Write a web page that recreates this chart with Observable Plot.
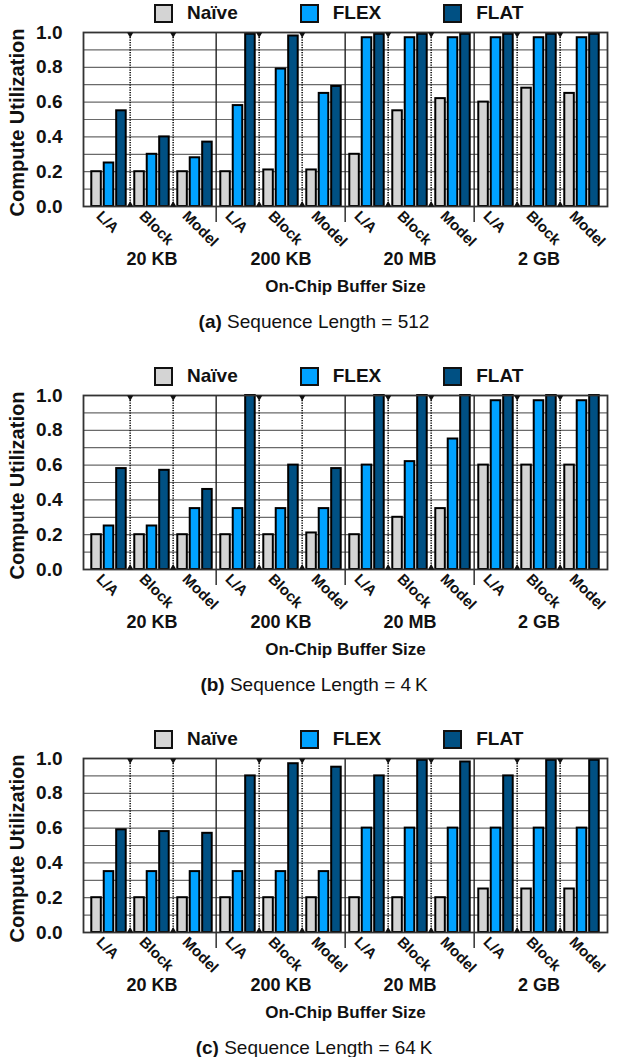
<!DOCTYPE html>
<html>
<head>
<meta charset="utf-8">
<script src="https://cdn.jsdelivr.net/npm/d3@7"></script>
<script src="https://cdn.jsdelivr.net/npm/@observablehq/plot@0.6"></script>
<style>
  body { margin: 0; background: #fff; font-family: "Liberation Sans", Arial, sans-serif; }
  .panel { position: relative; width: 628px; height: 363px; }
  .legend { display: flex; align-items: center; height: 26px; padding-left: 154px; gap: 62px; }
  .legend .item { display: flex; align-items: center; font-size: 19px; font-weight: bold; color: #111; }
  .legend .sw { width: 15px; height: 15px; border: 2px solid #111; margin-right: 14px; }
  .caption { position: absolute; left: 0; width: 628px; top: 311px; text-align: center;
             font-size: 19px; line-height: 22px; color: #111; }
  .caption b { font-weight: bold; }
  svg { display: block; }
</style>
</head>
<body>
<div id="chart"></div>
<script>
// Categories and series
const groups = ["20 KB", "200 KB", "20 MB", "2 GB"];
const categories = ["L/A", "Block", "Model"];
const seriesNames = ["Naïve", "FLEX", "FLAT"];
const seriesColors = ["#d4d4d4", "#00a2ff", "#005083"];
const yTicks = [0, 0.2, 0.4, 0.6, 0.8, 1.0];
const gridLevels = [0.1, 0.2, 0.3, 0.4, 0.5, 0.6, 0.7, 0.8, 0.9];

// Compute utilization, ordered group by group: L/A, Block, Model
// (a) Sequence Length = 512
const naive512 = [0.20, 0.20, 0.20, 0.20, 0.21, 0.21, 0.30, 0.55, 0.62, 0.60, 0.68, 0.65];
const flex512  = [0.25, 0.30, 0.28, 0.58, 0.79, 0.65, 0.97, 0.97, 0.97, 0.97, 0.97, 0.97];
const flat512  = [0.55, 0.40, 0.37, 0.99, 0.98, 0.69, 0.99, 0.99, 0.99, 0.99, 0.99, 0.99];
// (b) Sequence Length = 4 K
const naive4K = [0.20, 0.20, 0.20, 0.20, 0.20, 0.21, 0.20, 0.30, 0.35, 0.60, 0.60, 0.60];
const flex4K  = [0.25, 0.25, 0.35, 0.35, 0.35, 0.35, 0.60, 0.62, 0.75, 0.97, 0.97, 0.97];
const flat4K  = [0.58, 0.57, 0.46, 1.00, 0.60, 0.58, 1.00, 1.00, 1.00, 1.00, 1.00, 1.00];
// (c) Sequence Length = 64 K
const naive64K = [0.20, 0.20, 0.20, 0.20, 0.20, 0.20, 0.20, 0.20, 0.20, 0.25, 0.25, 0.25];
const flex64K  = [0.35, 0.35, 0.35, 0.35, 0.35, 0.35, 0.60, 0.60, 0.60, 0.60, 0.60, 0.60];
const flat64K  = [0.59, 0.58, 0.57, 0.90, 0.97, 0.95, 0.90, 0.99, 0.98, 0.90, 0.99, 0.99];

const panels = [
  {tag: "a", text: "Sequence Length = 512", values: [naive512, flex512, flat512]},
  {tag: "b", text: "Sequence Length = 4\u2009K", values: [naive4K, flex4K, flat4K]},
  {tag: "c", text: "Sequence Length = 64\u2009K", values: [naive64K, flex64K, flat64K]}
];

const keys = groups.flatMap(g => categories.map(c => `${g}|${c}`));
const dottedKeys = keys.filter(k => !k.endsWith("|L/A"));
const solidKeys = keys.filter((k, i) => k.endsWith("|L/A") && i > 0);

// Layout
const W = 628, mL = 83, mR = 21, mT = 6, plotH = 174, mB = 91;
const bw = (W - mL - mR) / keys.length;   // width of one category slot
const pitch = 12.45, barW = 12.2, pad = (bw - 2 * pitch - barW) / 2, sw = 2;
const font = "Liberation Sans, Arial, sans-serif";

const root = document.getElementById("chart");

for (const p of panels) {
  const rows = [];
  p.values.forEach((vals, s) => vals.forEach((v, i) => rows.push({
    key: keys[i], series: seriesNames[s], s, value: v
  })));

  const panel = document.createElement("div");
  panel.className = "panel";

  const legend = document.createElement("div");
  legend.className = "legend";
  seriesNames.forEach((name, i) => {
    const item = document.createElement("div");
    item.className = "item";
    item.innerHTML = `<span class="sw" style="background:${seriesColors[i]}"></span>${name}`;
    legend.appendChild(item);
  });
  panel.appendChild(legend);

  const barMarks = seriesNames.map((name, s) => {
    const left = pad + s * pitch;
    return Plot.barY(rows.filter(d => d.s === s), {
      x: "key", y: "value",
      fill: seriesColors[s], stroke: "#000", strokeWidth: sw,
      insetLeft: left + sw / 2,
      insetRight: bw - left - barW + sw / 2
    });
  });

  const chart = Plot.plot({
    width: W, height: mT + plotH + mB,
    marginLeft: mL, marginRight: mR, marginTop: mT, marginBottom: mB,
    style: {fontFamily: font, overflow: "visible", background: "transparent"},
    x: {domain: keys, padding: 0, axis: null},
    y: {domain: [0, 1], axis: null},
    marks: [
      Plot.ruleY(gridLevels, {stroke: "#6a6a6a", strokeWidth: 1.2}),
      Plot.ruleX(dottedKeys, {x: d => d, dx: -bw / 2, stroke: "#111", strokeWidth: 1.6, strokeDasharray: "1.3,1.2"}),
      Plot.ruleX(solidKeys, {x: d => d, dx: -bw / 2, stroke: "#222", strokeWidth: 1.4, insetBottom: -16}),
      ...barMarks,
      Plot.frame({stroke: "#333", strokeWidth: 1.8}),
      Plot.dot(dottedKeys, {x: d => d, y: () => 1, dx: -bw / 2, dy: 1.8, symbol: "triangle", rotate: 180, r: 2.3, fill: "#111", stroke: null}),
      Plot.dot(dottedKeys, {x: d => d, y: () => 0, dx: -bw / 2, dy: -1.8, symbol: "triangle", r: 2.3, fill: "#111", stroke: null}),
      Plot.axisY(yTicks, {tickSize: 0, tickPadding: 21, tickFormat: d3.format(".1f"),
        fontSize: 19, fontWeight: "bold", label: null, fill: "#111"}),
      Plot.text(["Compute Utilization"], {frameAnchor: "left", dx: -66, dy: 3, rotate: -90,
        textAnchor: "middle", fontSize: 20, fontWeight: "bold", fill: "#111"}),
      Plot.axisX({tickSize: 0, tickRotate: 45, tickPadding: 4, tickFormat: k => k.split("|")[1],
        dx: -10, dy: 3, fontSize: 15, fontWeight: "bold", label: null, fill: "#111"}),
      Plot.text(groups, {x: g => `${g}|Block`, frameAnchor: "bottom", dy: 58,
        fontSize: 18, fontWeight: "bold", fill: "#111"}),
      Plot.text(["On-Chip Buffer Size"], {frameAnchor: "bottom", dy: 85,
        fontSize: 17, fontWeight: "bold", fill: "#111"})
    ]
  });
  panel.appendChild(chart);

  const cap = document.createElement("div");
  cap.className = "caption";
  cap.innerHTML = `<b>(${p.tag})</b> ${p.text}`;
  panel.appendChild(cap);

  root.appendChild(panel);
}
</script>
</body>
</html>
